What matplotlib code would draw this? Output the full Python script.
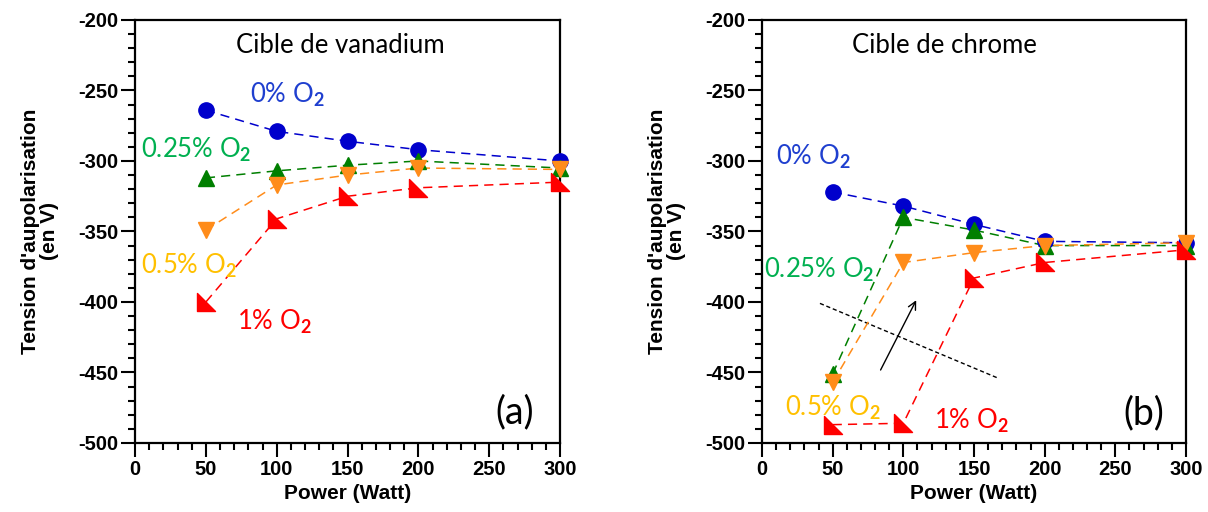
import numpy as np
import matplotlib
matplotlib.use("Agg")
from matplotlib import pyplot as plt
from matplotlib.ticker import MultipleLocator
from matplotlib.path import Path

plt.rcParams['font.family'] = 'Liberation Sans'
plt.rcParams['font.weight'] = 'bold'
plt.rcParams['axes.unicode_minus'] = False
plt.rcParams['mathtext.fontset'] = 'custom'
plt.rcParams['mathtext.rm'] = 'Lato'

power = [50, 100, 150, 200, 300]

# (a) cible de vanadium
v_0 = [-264, -279, -286, -292, -300]
v_025 = [-312, -307, -303, -300, -305]
v_05 = [-349, -317, -310, -305, -306]
v_1 = [-400, -341, -325, -319, -315]

# (b) cible de chrome
c_0 = [-322, -332, -345, -357, -358]
c_025 = [-451, -340, -349, -360, -360]
c_05 = [-457, -372, -365, -360, -358]
c_1 = [-487, -486, -383, -372, -363]

labels = ["0% O$_\\mathrm{2}$", "0.25% O$_\\mathrm{2}$", "0.5% O$_\\mathrm{2}$", "1% O$_\\mathrm{2}$"]

line_cols = ['#0000CC', '#007F00', '#FF8C1A', '#FF0000']
text_cols = ['#1F3FCF', '#00B050', '#FFC000', '#FF0000']

# right-angle triangle marker (corner bottom left)
rtri = Path([(-1, 1), (-1, -1), (1, -1), (-1, 1)],
            [Path.MOVETO, Path.LINETO, Path.LINETO, Path.CLOSEPOLY])
markers = ['o', '^', 'v', rtri]
msizes = [11, 12, 12, 13]

fig = plt.figure(figsize=(12.08, 5.12), dpi=100)
ax1 = fig.add_axes([0.1118, 0.1348, 0.3518, 0.8262])
ax2 = fig.add_axes([0.6308, 0.1348, 0.351, 0.8262])


def draw(ax, series):
    for y, c, m, ms in zip(series, line_cols, markers, msizes):
        ax.plot(power, y, ls=(0, (6, 4)), lw=1.1, color=c, zorder=2)
        ax.plot(power, y, ls='none', marker=m, ms=ms, color=c, mec=c,
                zorder=3, clip_on=False)
    ax.set_xlim(0, 300)
    ax.set_ylim(-500, -200)
    ax.xaxis.set_major_locator(MultipleLocator(50))
    ax.xaxis.set_minor_locator(MultipleLocator(10))
    ax.yaxis.set_major_locator(MultipleLocator(50))
    ax.yaxis.set_minor_locator(MultipleLocator(10))
    ax.tick_params(which='major', direction='out', length=10, width=1.5,
                   labelsize=14.5, pad=2)
    ax.tick_params(which='minor', direction='out', length=5, width=1.5)
    for s in ax.spines.values():
        s.set_linewidth(1.6)
    ax.set_xlabel("Power (Watt)", fontsize=15, fontweight='bold', labelpad=4)
    ax.set_ylabel("Tension d'aupolarisation\n(en V)", fontsize=15,
                  fontweight='bold', labelpad=14, linespacing=1.0)


draw(ax1, [v_0, v_025, v_05, v_1])
draw(ax2, [c_0, c_025, c_05, c_1])

tf = dict(family='Lato', fontsize=18.5, fontweight='normal')
ax1.text(145, -218, "Cible de vanadium", ha='center', va='center', **tf)
ax2.text(129, -218, "Cible de chrome", ha='center', va='center', **tf)

ax1.text(81, -253, labels[0], color=text_cols[0], va='center', **tf)
ax1.text(4, -292, labels[1], color=text_cols[1], va='center', **tf)
ax1.text(4, -374, labels[2], color=text_cols[2], va='center', **tf)
ax1.text(72, -414, labels[3], color=text_cols[3], va='center', **tf)
ax1.text(268, -478, "(a)", ha='center', va='center', family='Lato',
         fontsize=27, fontweight='normal')

ax2.text(10, -297, labels[0], color=text_cols[0], va='center', **tf)
ax2.text(1.5, -377, labels[1], color=text_cols[1], va='center', **tf)
ax2.text(16, -475, labels[2], color=text_cols[2], va='center', **tf)
ax2.text(122, -484, labels[3], color=text_cols[3], va='center', **tf)
ax2.text(270, -479, "(b)", ha='center', va='center', family='Lato',
         fontsize=27, fontweight='normal')

ax2.plot([41, 167], [-401, -454], color='black', lw=1.0, ls=(0, (3, 2)), zorder=1)
ax2.annotate("", xy=(110, -397), xytext=(83, -450),
             arrowprops=dict(arrowstyle='->', color='black', lw=1.0,
                             mutation_scale=14))

fig.canvas.draw()
for ax in (ax1, ax2):
    for lab in ax.get_xticklabels() + ax.get_yticklabels():
        lab.set_fontweight('bold')

fig.savefig("out.png", dpi=100)
